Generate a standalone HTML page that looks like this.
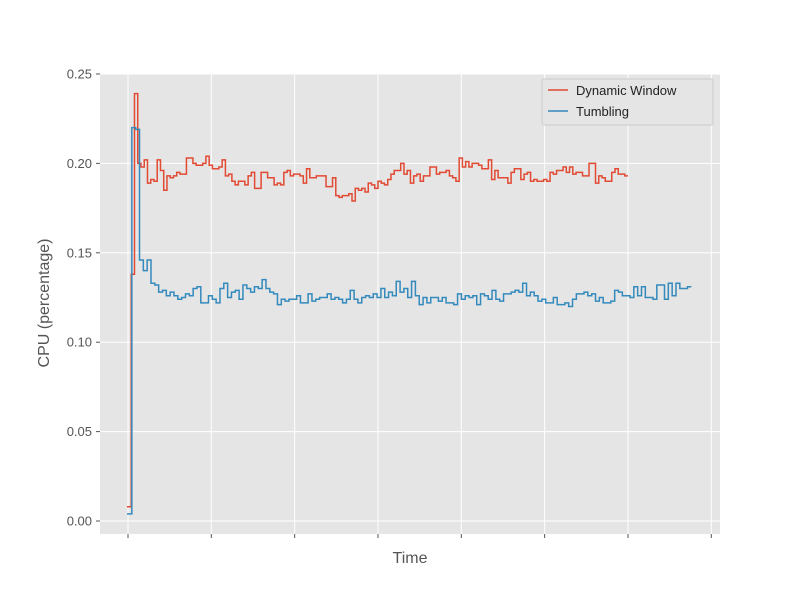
<!DOCTYPE html>
<html><head><meta charset="utf-8"><style>
body{margin:0;background:#fff;}
svg{display:block;font-family:"Liberation Sans","DejaVu Sans",sans-serif;}
</style></head><body>
<svg id="chart" width="800" height="600" viewBox="0 0 800 600">
<rect x="0" y="0" width="800" height="600" fill="#fff"/>
<rect x="100" y="74" width="620" height="460" fill="#e5e5e5"/>
<g id="grid"></g>
<g id="ticks"></g>
<g id="series"></g>
<text x="410" y="563" font-size="16" fill="#555" text-anchor="middle">Time</text>
<text x="0" y="0" font-size="16" fill="#555" text-anchor="middle" transform="translate(49,303) rotate(-90)">CPU (percentage)</text>
<g>
<rect x="542" y="79" width="171" height="46" fill="#e5e5e5" stroke="#ccc" stroke-width="1" rx="2"/>
<line x1="548" y1="90" x2="568" y2="90" stroke="#e24a33" stroke-width="1.5"/>
<text x="576" y="95" font-size="13" fill="#222">Dynamic Window</text>
<line x1="548" y1="111" x2="568" y2="111" stroke="#348abd" stroke-width="1.5"/>
<text x="576" y="116" font-size="13" fill="#222">Tumbling</text>
</g>
</svg>
<script>
const yTicks=[0,0.05,0.10,0.15,0.20,0.25];
const yTickLabels=["0.00","0.05","0.10","0.15","0.20","0.25"];
const xTicks=[0,25,50,75,100,125,150,175];
const dynamicEndTime=150;
const tumblingEndTime=169;
const dynamicWindow=[0.008,0.138,0.239,0.2,0.198,0.202,0.189,0.191,0.19,0.202,0.196,0.185,0.193,0.192,0.193,0.195,0.194,0.194,0.203,0.203,0.2,0.199,0.199,0.2,0.204,0.199,0.197,0.197,0.198,0.202,0.193,0.194,0.19,0.188,0.19,0.19,0.188,0.193,0.195,0.186,0.186,0.195,0.195,0.192,0.192,0.188,0.189,0.188,0.195,0.196,0.193,0.194,0.194,0.193,0.189,0.197,0.192,0.192,0.193,0.193,0.193,0.187,0.187,0.192,0.182,0.181,0.182,0.182,0.183,0.179,0.186,0.185,0.186,0.184,0.189,0.188,0.186,0.190,0.189,0.188,0.191,0.194,0.196,0.196,0.200,0.194,0.196,0.189,0.193,0.194,0.190,0.193,0.193,0.198,0.198,0.194,0.195,0.195,0.196,0.193,0.192,0.190,0.203,0.198,0.201,0.198,0.200,0.200,0.199,0.197,0.197,0.202,0.191,0.196,0.192,0.192,0.192,0.189,0.195,0.197,0.197,0.191,0.194,0.195,0.190,0.191,0.190,0.190,0.191,0.190,0.195,0.194,0.196,0.196,0.198,0.195,0.198,0.194,0.195,0.195,0.193,0.193,0.200,0.200,0.189,0.193,0.192,0.190,0.190,0.195,0.197,0.194,0.194,0.193];
const tumbling=[0.004,0.22,0.219,0.146,0.14,0.146,0.133,0.132,0.128,0.129,0.126,0.128,0.126,0.124,0.125,0.127,0.126,0.130,0.131,0.122,0.122,0.126,0.124,0.122,0.130,0.133,0.125,0.128,0.129,0.124,0.132,0.130,0.128,0.131,0.130,0.135,0.130,0.128,0.127,0.121,0.124,0.123,0.124,0.124,0.126,0.122,0.122,0.127,0.123,0.124,0.125,0.125,0.127,0.124,0.125,0.124,0.122,0.124,0.129,0.124,0.122,0.125,0.126,0.125,0.127,0.125,0.130,0.125,0.128,0.126,0.134,0.128,0.130,0.125,0.134,0.126,0.121,0.125,0.122,0.125,0.125,0.123,0.125,0.122,0.122,0.121,0.127,0.124,0.126,0.125,0.126,0.121,0.127,0.126,0.124,0.129,0.124,0.123,0.127,0.127,0.128,0.129,0.128,0.133,0.126,0.128,0.126,0.123,0.124,0.122,0.122,0.125,0.121,0.121,0.122,0.120,0.124,0.127,0.127,0.128,0.126,0.127,0.123,0.125,0.122,0.122,0.123,0.129,0.128,0.126,0.126,0.125,0.131,0.126,0.131,0.125,0.125,0.124,0.132,0.132,0.124,0.133,0.126,0.133,0.130,0.130,0.131];
const X0=128,XS=83.33/25,Y0=521,YS=447/0.25;
function xs(t){return X0+t*XS;}
function ys(v){return Y0-v*YS;}
const NS="http://www.w3.org/2000/svg";
const grid=document.getElementById('grid'),ticks=document.getElementById('ticks'),series=document.getElementById('series');
function mk(tag,attrs,parent){const e=document.createElementNS(NS,tag);for(const k in attrs)e.setAttribute(k,attrs[k]);parent.appendChild(e);return e;}
yTicks.forEach((v,k)=>{
  const y=ys(v);
  const g=mk('line',{x1:100,x2:720,y1:y,y2:y,stroke:'#fff','stroke-width':1},grid);
  
  
  const t=mk('line',{x1:96,x2:100,y1:y,y2:y,stroke:'#555','stroke-width':1},ticks);
  
  
  const l=mk('text',{x:92,y:y+4.5,'font-size':13,fill:'#555','text-anchor':'end'},ticks);
  l.textContent=yTickLabels[k];
  
  
});
xTicks.forEach(i=>{
  const x=xs(i);
  const g=mk('line',{x1:x,x2:x,y1:74,y2:534,stroke:'#fff','stroke-width':1},grid);
  
  
  const t=mk('line',{x1:x,x2:x,y1:534,y2:538,stroke:'#555','stroke-width':1},ticks);
  
  
});
function stepPath(arr,endT){
  const dt=endT/arr.length;
  let d='M'+(xs(0)-1)+','+ys(arr[0]);
  arr.forEach((v,i)=>{d+=' L'+xs(i*dt)+','+ys(v)+' L'+xs((i+1)*dt)+','+ys(v);});
  return d;
}
const pr=mk('path',{d:stepPath(dynamicWindow,dynamicEndTime),fill:'none',stroke:'#e24a33','stroke-width':1.5},series);


const pb=mk('path',{d:stepPath(tumbling,tumblingEndTime),fill:'none',stroke:'#348abd','stroke-width':1.5},series);


</script>
</body></html>
